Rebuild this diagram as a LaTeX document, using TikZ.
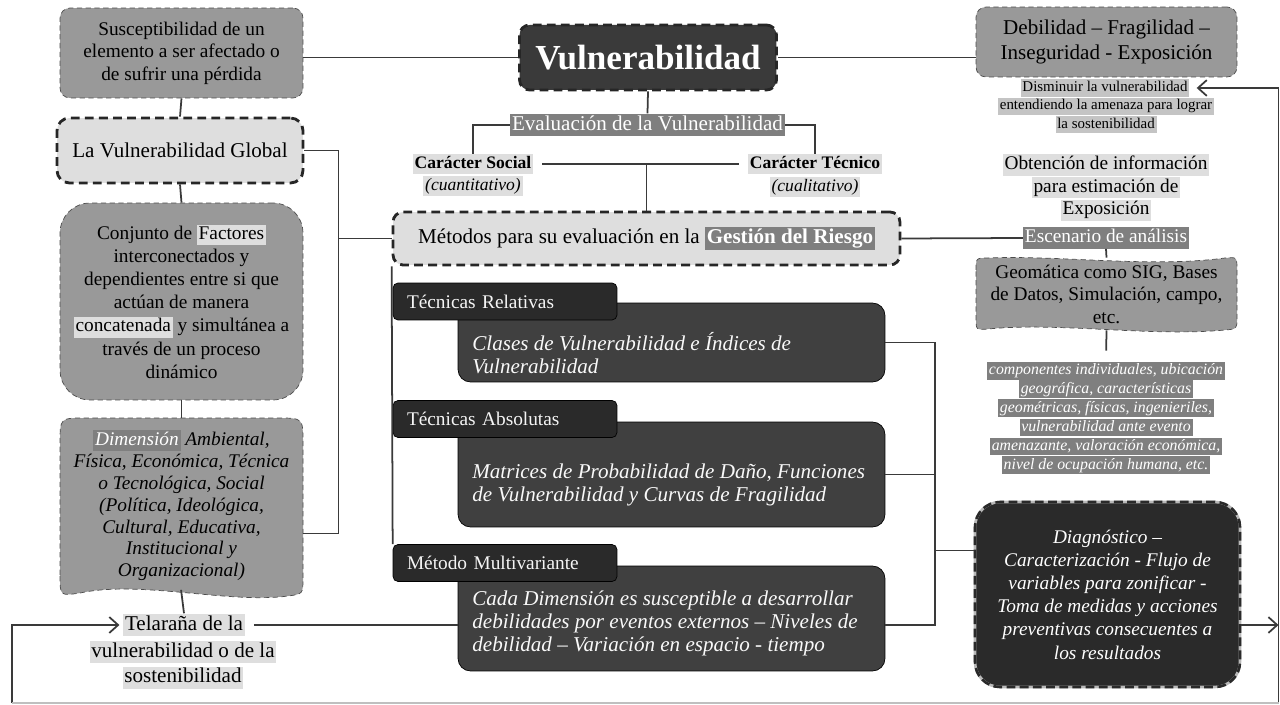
\documentclass[tikz,border=0pt]{standalone}
\usepackage{fontspec}
\setmainfont{Liberation Serif}
\usepackage{xcolor}
\usepackage{tikz}
\usetikzlibrary{arrows.meta, calc}
\definecolor{midgray}{RGB}{153, 153, 153}
\definecolor{lightfill}{RGB}{222, 222, 222}
\definecolor{softgray}{RGB}{196, 196, 196}
\definecolor{markgray}{RGB}{127, 127, 127}
\definecolor{darkfill}{RGB}{58, 58, 58}
\definecolor{techfill}{RGB}{64, 64, 64}
\definecolor{tabfill}{RGB}{42, 42, 42}
\definecolor{linegray}{RGB}{58, 58, 58}
\newcommand{\hilite}[2]{{\setlength{\fboxsep}{1pt}\colorbox{#1}{\vphantom{Ay}#2}}}
\newcommand{\darkmark}[1]{\hilite{markgray}{\color{white}#1}}
\tikzset{
    conn/.style={draw=linegray, line width=1pt},
    arr/.style={conn, -{Straight Barb[length=5pt, width=9pt]}},
    softline/.style={draw=black!70, densely dashed, line width=0.4pt, fill=midgray},
    softbox/.style={softline, rounded corners=0.2cm, align=center},
    keybox/.style={draw=black!85, dash pattern=on 5pt off 3pt, line width=1.6pt, rounded corners=0.2cm, align=center},
    techbox/.style={fill=techfill, draw=black, rounded corners=0.25cm, minimum width=8.54cm},
    techtab/.style={fill=tabfill, draw=black, rounded corners=0.1cm, minimum width=4.48cm, minimum height=0.74cm,
        inner xsep=0.28cm, text width=3.92cm, align=left, text=white!92!gray, font=\fontsize{11}{13}\selectfont},
    techtext/.style={anchor=west, inner sep=0pt, align=left, text=white!95!gray, font=\fontsize{12}{13.2}\selectfont\itshape},
    labeltxt/.style={align=center, inner sep=0pt}
}
\begin{document}
\begin{tikzpicture}[x=0.02cm, y=-0.02cm]
    \useasboundingbox (0,0) rectangle (1280,705);

    % Top row
    \node[softbox, minimum width=4.86cm, minimum height=1.8cm, font=\fontsize{11}{12.8}\selectfont] (sus) at (181.5,53)
        {Susceptibilidad de un\\elemento a ser afectado o\\de sufrir una pérdida};
    \node[keybox, fill=darkfill, text=white, minimum width=5.14cm, minimum height=1.3cm, font=\fontsize{20}{24}\selectfont\bfseries] (vuln) at (648,57.5)
        {Vulnerabilidad};
    \node[softbox, minimum width=5.22cm, minimum height=1.4cm, font=\fontsize{12}{14.2}\selectfont] (deb) at (1106.5,42)
        {Debilidad – Fragilidad –\\Inseguridad - Exposición};

    % Left column
    \node[keybox, fill=lightfill, minimum width=4.92cm, minimum height=1.3cm, rounded corners=0.25cm, font=\fontsize{12}{14}\selectfont] (glob) at (180,150.5)
        {La Vulnerabilidad Global};
    \node[softbox, minimum width=4.86cm, minimum height=3.94cm, rounded corners=0.6cm, font=\fontsize{11}{13.2}\selectfont] (conj) at (181.5,301.5)
        {Conjunto de \hilite{lightfill}{Factores}\\interconectados y\\dependientes entre si que\\actúan de manera\\\hilite{lightfill}{concatenada} y simultánea a\\través de un proceso\\dinámico};
    % wavy-bottom shape
    \path[softline] (60,575) -- (60,443) .. controls (60,418) .. (85,418) -- (278,418) .. controls (303,418) .. (303,443)
        -- (303,578) .. controls (303,594) .. (288,596) .. controls (230,604) and (140,580) .. (80,593) .. controls (60,596) .. (60,575) -- cycle;
    \node[labeltxt, minimum width=4.86cm, minimum height=3.5cm, font=\fontsize{11}{12.5}\selectfont\itshape] (dim) at (181.5,505.5)
        {\darkmark{Dimensión} Ambiental,\\Física, Económica, Técnica\\o Tecnológica, Social\\(Política, Ideológica,\\Cultural, Educativa,\\Institucional y\\Organizacional)};
    \node[labeltxt, font=\fontsize{12}{14.7}\selectfont] (tel) at (184,625) {\hilite{lightfill}{Telaraña de la}};
    \node[labeltxt, font=\fontsize{12}{14.7}\selectfont] (telb) at (183,665)
        {\hilite{lightfill}{vulnerabilidad o de la}\\\hilite{lightfill}{sostenibilidad}};

    % Centre
    \node[labeltxt, font=\fontsize{12}{14}\selectfont] (eval) at (647.5,125) {\darkmark{Evaluación de la Vulnerabilidad}};
    \node[labeltxt, font=\fontsize{10}{12}\selectfont\bfseries] (soc) at (473,164) {\hilite{lightfill}{Carácter Social}};
    \node[labeltxt, font=\fontsize{10}{12}\selectfont\itshape] (socb) at (473,186) {\hilite{lightfill}{(cuantitativo)}};
    \node[labeltxt, font=\fontsize{10}{12}\selectfont\bfseries] (tec) at (815,164) {\hilite{lightfill}{Carácter Técnico}};
    \node[labeltxt, font=\fontsize{10}{12}\selectfont\itshape] (tecb) at (815,187) {\hilite{lightfill}{(cualitativo)}};
    \node[keybox, fill=lightfill, minimum width=10.14cm, minimum height=1.06cm, font=\fontsize{12}{14}\selectfont] (meth) at (646.5,238.5)
        {Métodos para su evaluación en la \darkmark{\bfseries Gestión del Riesgo}};

    % Techniques
    \node[techbox, minimum height=1.58cm] (rel) at (671.5,342.5) {};
    \node[techtab] (tabrel) at (505,301.5) {Técnicas Relativas};
    \node[techtext] (reltxt) at (472,353.5) {Clases de Vulnerabilidad e Índices de\\Vulnerabilidad};
    \node[techbox, minimum height=2.1cm] (abs) at (671.5,474.5) {};
    \node[techtab] (tababs) at (505,419) {Técnicas Absolutas};
    \node[techtext] (abstxt) at (472,485) {Matrices de Probabilidad de Daño, Funciones\\de Vulnerabilidad y Curvas de Fragilidad};
    \node[techbox, minimum height=2.1cm] (mul) at (671.5,618.5) {};
    \node[techtab] (tabmul) at (505,563) {Método Multivariante};
    \node[techtext] (multxt) at (472,623.5) {Cada Dimensión es susceptible a desarrollar\\debilidades por eventos externos – Niveles de\\debilidad – Variación en espacio - tiempo};

    % Right column
    \node[labeltxt, font=\fontsize{8.5}{10.5}\selectfont] (dis) at (1105,88) {\hilite{softgray}{Disminuir la vulnerabilidad}};
    \node[labeltxt, font=\fontsize{8.5}{10.5}\selectfont] (disb) at (1106,115.5)
        {\hilite{softgray}{entendiendo la amenaza para lograr}\\\hilite{softgray}{la sostenibilidad}};
    \node[labeltxt, font=\fontsize{11}{12.8}\selectfont] (obt) at (1106,187.5)
        {\hilite{lightfill}{Obtención de información}\\\hilite{lightfill}{para estimación de}\\\hilite{lightfill}{Exposición}};
    \node[labeltxt, font=\fontsize{11}{13}\selectfont] (esc) at (1106,238) {\darkmark{Escenario de análisis}};
    % tape-like shape
    \path[softline] (976,270) .. controls (976,258) .. (988,258) .. controls (1060,255) and (1150,268) .. (1225,258)
        .. controls (1237,257) .. (1237,270) -- (1237,318) .. controls (1237,329) .. (1225,330)
        .. controls (1150,337) and (1060,322) .. (988,329) .. controls (976,330) .. (976,318) -- cycle;
    \node[labeltxt, minimum width=5.22cm, minimum height=1.44cm, font=\fontsize{11}{12.8}\selectfont] (geo) at (1106.5,294)
        {Geomática como SIG, Bases\\de Datos, Simulación, campo,\\etc.};
    \node[labeltxt, font=\fontsize{9}{10.8}\selectfont\itshape] (comp) at (1106,418)
        {\darkmark{componentes individuales, ubicación}\\\darkmark{geográfica, características}\\\darkmark{geométricas, físicas, ingenieriles,}\\
         \darkmark{vulnerabilidad ante evento}\\\darkmark{amenazante, valoración económica,}\\\darkmark{nivel de ocupación humana, etc.}};
    \node[fill=tabfill, draw=gray!55, line width=1.5pt, rounded corners=0.5cm, minimum width=5.3cm, minimum height=3.7cm,
          postaction={draw=tabfill, line width=1.5pt, dash pattern=on 5pt off 2.5pt},
          align=center, text=white, font=\fontsize{11}{13.2}\selectfont\itshape] (diag) at (1107.5,594.5)
        {Diagnóstico –\\Caracterización - Flujo de\\variables para zonificar -\\Toma de medidas y acciones\\preventivas consecuentes a\\los resultados};

    % Connectors
    \draw[conn] (vuln.west) -- (vuln.west -| sus.east);
    \draw[conn] (vuln.east) -- (vuln.east -| deb.west);
    \draw[conn] (sus.south) -- (glob.north);
    \draw[conn] (glob.south) -- (conj.north);
    \draw[conn] (conj.south) -- (dim.north);
    \draw[conn, shorten <=-2pt] (dim.south) -- (tel.north);
    \coordinate (dimr) at ($(dim.east)+(0,28)$);
    \draw[conn] (glob.east) -- ++(34,0) coordinate (gbus) |- (dimr);
    \draw[conn] (gbus |- meth.west) -- (meth.west);
    \draw[conn] (vuln.south) -- (eval.north);
    \draw[conn] (eval.west) -| (soc.north);
    \draw[conn] (eval.east) -| (tec.north);
    \draw[conn, shorten <=5pt, shorten >=5pt] (soc.east) -- (tec.west);
    \draw[conn] (meth.north) -- (meth.north |- soc.east);
    \draw[conn] (meth.east) -- (esc.west);
    \draw[conn] (esc.south) -- (geo.north);
    \draw[conn, shorten >=6pt] (geo.south) -- (comp.north);
    \draw[conn] (meth.south west) -- (tabmul.north west);
    \draw[conn] (rel.east) -- ++(50,0) coordinate (rbus) |- (tel.east -| mul.east);
    \draw[conn] (abs.east) -- (abs.east -| rbus);
    \draw[conn, shorten <=5pt] (tel.east) -- (tel.east -| mul.west);
    \coordinate (diagl) at ($(diag.west)+(0,-44)$);
    \draw[conn] (rbus |- diagl) -- (diagl);
    \coordinate (rc) at (1278.5,703);
    \coordinate (lc) at (12,703);
    \draw[arr] (diag.east |- tel.east) -- (rc |- tel.east);
    \draw[arr, shorten >=4pt] (rc) |- (dis.east);
    \draw[arr, shorten >=2pt] (lc) |- (tel.west);
    \draw[conn, draw=black!25] (lc) -- (rc);
\end{tikzpicture}
\end{document}
